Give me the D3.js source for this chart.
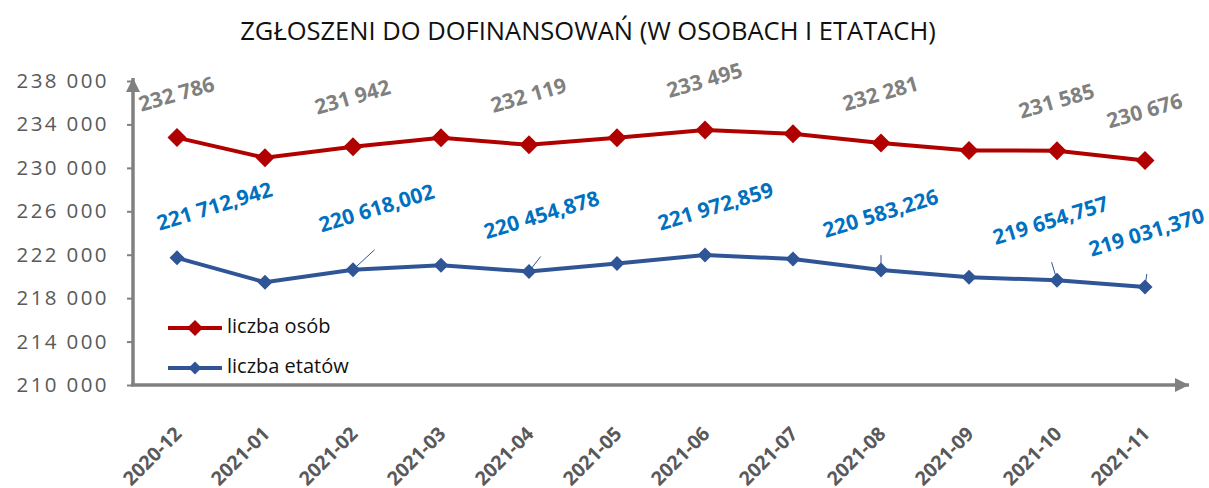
<html>
<head>
  <meta charset="utf-8">
  <title>Zgłoszeni do dofinansowań</title>
  <script src="https://d3js.org/d3.v7.min.js"></script>
  <style>
    body { margin: 0; background: #fff; }
    .tick text { font-family: "Open Sans", sans-serif; }
  </style>
</head>
<body>
  <script>
var months = ["2020-12", "2021-01", "2021-02", "2021-03", "2021-04", "2021-05",
              "2021-06", "2021-07", "2021-08", "2021-09", "2021-10", "2021-11"];
var osoby  = [232786, 230930, 231942, 232770, 232119, 232770,
              233495, 233140, 232281, 231600, 231585, 230676];
var etaty  = [221712.942, 219460, 220618.002, 221030, 220454.878, 221190,
              221972.859, 221610, 220583.226, 219920, 219654.757, 219031.370];
var yTicks = [210000, 214000, 218000, 222000, 226000, 230000, 234000, 238000];
// which points carry a data label
var labelled = [0, 2, 4, 6, 8, 10, 11];
// hand placed offsets of the blue labels (as in the original)
var blueOffset = [[38, -50], [24, -60], [13, -55], [11, -47], [0, -55], [-6, -58], [2, -53]];

var width = 1209,
    height = 488;

var red = "#b00000",
    blue = "#2f5597";

var svg = d3.select("body")
  .append("svg")
  .attr("width", width)
  .attr("height", height);

var defs = svg.append("defs");
defs.append("marker")
  .attr("id", "arrow")
  .attr("viewBox", "0 0 10 10")
  .attr("refX", 10).attr("refY", 5)
  .attr("markerWidth", 6).attr("markerHeight", 4)
  .attr("markerUnits", "strokeWidth")
  .attr("orient", "auto")
  .append("path")
  .attr("d", "M0,0L10,5L0,10Z")
  .attr("fill", "#808080");

var x = d3.scaleBand().domain(months).range([133, 1189]);
var y = d3.scaleLinear().domain([210000, 238000]).range([385, 81]);
var cx = function(i){ return x(months[i]) + x.bandwidth() / 2; };

var fmt = function(v){ return d3.format(",")(v).replace(/,/g, " "); };

svg.append("text")
  .attr("x", 588).attr("y", 40)
  .attr("text-anchor", "middle")
  .attr("font-family", "Open Sans, sans-serif")
  .attr("font-size", 25.5)
  .attr("fill", "#111")
  .text("ZGŁOSZENI DO DOFINANSOWAŃ (W OSOBACH I ETATACH)");

// y axis
var yAxis = svg.append("g")
  .attr("transform", "translate(133,0)")
  .call(d3.axisLeft(y).tickValues(yTicks).tickSize(6).tickSizeOuter(0).tickFormat(fmt));
yAxis.select(".domain").remove();
yAxis.selectAll(".tick line").attr("stroke", "#808080").attr("stroke-width", 2);
yAxis.selectAll(".tick text")
  .attr("x", -24)
  .attr("font-size", 20.5)
  .attr("letter-spacing", 2.4)
  .attr("fill", "#595959");

// x axis labels
var xAxis = svg.append("g")
  .attr("transform", "translate(0,385)")
  .call(d3.axisBottom(x).tickSize(0));
xAxis.select(".domain").remove();
xAxis.selectAll(".tick text")
  .attr("font-size", 19.5)
  .attr("font-weight", "bold")
  .attr("fill", "#595959")
  .attr("text-anchor", "end")
  .attr("dy", 0)
  .attr("y", 0)
  .attr("transform", "translate(6,50) rotate(-45)");

// axis lines with arrows
svg.append("line")
  .attr("x1", 133).attr("y1", 385).attr("x2", 133).attr("y2", 78)
  .attr("stroke", "#808080").attr("stroke-width", 3.5)
  .attr("marker-end", "url(#arrow)");
svg.append("line")
  .attr("x1", 131).attr("y1", 385).attr("x2", 1189).attr("y2", 385)
  .attr("stroke", "#808080").attr("stroke-width", 3.5)
  .attr("marker-end", "url(#arrow)");

var line = d3.line()
  .x(function(d, i){ return cx(i); })
  .y(function(d){ return y(d); });

var diamond = function(s){ return "M0," + (-s) + "L" + s + ",0L0," + s + "L" + (-s) + ",0Z"; };

function series(values, color, lw, size) {
  var g = svg.append("g");
  g.append("path")
    .datum(values)
    .attr("d", line)
    .attr("fill", "none")
    .attr("stroke", color)
    .attr("stroke-width", lw);
  g.selectAll("path.pt")
    .data(values)
    .enter()
    .append("path")
    .attr("class", "pt")
    .attr("d", diamond(size))
    .attr("fill", color)
    .attr("transform", function(d, i){ return "translate(" + cx(i) + "," + y(d) + ")"; });
}

series(osoby, red, 4, 9.5);
series(etaty, blue, 4, 7.5);

// leader lines for the blue labels that sit far from their point
labelled.forEach(function(i, k){
  var o = blueOffset[k];
  if (o[1] > -52) return;
  svg.append("line")
    .attr("x1", cx(i)).attr("y1", y(etaty[i]))
    .attr("x2", cx(i) + o[0] * 0.9).attr("y2", y(etaty[i]) + o[1] + 40)
    .attr("stroke", blue).attr("stroke-width", 1);
});

// data labels
svg.append("g")
  .selectAll("text")
  .data(labelled)
  .enter()
  .append("text")
  .attr("transform", function(i){
    var dy = i === 0 ? -42 : -48;
    return "translate(" + cx(i) + "," + (y(osoby[i]) + dy) + ") rotate(-16)";
  })
  .attr("text-anchor", "middle")
  .attr("dominant-baseline", "middle")
  .attr("font-family", "Open Sans, sans-serif")
  .attr("font-weight", "bold")
  .attr("font-size", 21)
  .attr("fill", "#808080")
  .text(function(i){ return fmt(osoby[i]); });

svg.append("g")
  .selectAll("text")
  .data(labelled)
  .enter()
  .append("text")
  .attr("transform", function(i, k){
    var o = blueOffset[k];
    return "translate(" + (cx(i) + o[0]) + "," + (y(etaty[i]) + o[1]) + ") rotate(-17)";
  })
  .attr("text-anchor", "middle")
  .attr("dominant-baseline", "middle")
  .attr("font-family", "Open Sans, sans-serif")
  .attr("font-weight", "bold")
  .attr("font-size", 21)
  .attr("fill", "#0070c0")
  .text(function(i){
    var s = d3.format(",.3f")(etaty[i]);
    return s.replace(".", "#").replace(/,/g, " ").replace("#", ",");
  });

// legend
var legend = svg.append("g");
[["liczba osób", red, 4, 8], ["liczba etatów", blue, 4, 6.5]].forEach(function(d, k){
  var ly = 328 + k * 40;
  legend.append("line")
    .attr("x1", 168).attr("x2", 222).attr("y1", ly).attr("y2", ly)
    .attr("stroke", d[1]).attr("stroke-width", d[2]);
  legend.append("path")
    .attr("d", diamond(d[3]))
    .attr("fill", d[1])
    .attr("transform", "translate(195," + ly + ")");
  legend.append("text")
    .attr("x", 227).attr("y", ly)
    .attr("dominant-baseline", "middle")
    .attr("font-family", "Open Sans, sans-serif")
    .attr("font-size", 20)
    .attr("fill", "#111")
    .text(d[0]);
});
  </script>
</body>
</html>
